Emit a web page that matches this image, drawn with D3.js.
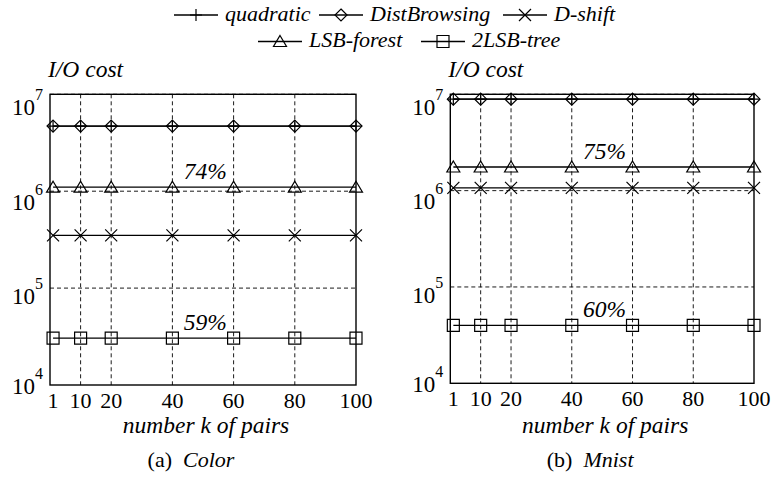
<!DOCTYPE html>
<html>
<head>
<meta charset="utf-8">
<script src="https://cdn.jsdelivr.net/npm/d3@7"></script>
<style>
  html, body { margin: 0; padding: 0; background: #fff; }
  svg { display: block; }
  text { font-family: "Liberation Serif", "Times New Roman", serif; fill: #000; }
</style>
</head>
<body>
<svg id="chart" width="775" height="479"></svg>
<script>
// ---------- data ----------
const kValues = [1, 10, 20, 40, 60, 80, 100];
const xTickLabels = ["1", "10", "20", "40", "60", "80", "100"];
const yTickValues = [1e4, 1e5, 1e6, 1e7];
const yTickExponents = ["4", "5", "6", "7"];
const seriesNames = ["quadratic", "DistBrowsing", "D-shift", "LSB-forest", "2LSB-tree"];

// (a) Color
const colorQuadratic    = [4.7e6, 4.7e6, 4.7e6, 4.7e6, 4.7e6, 4.7e6, 4.7e6];
const colorDistBrowsing = [4.7e6, 4.7e6, 4.7e6, 4.7e6, 4.7e6, 4.7e6, 4.7e6];
const colorDShift       = [3.5e5, 3.5e5, 3.5e5, 3.5e5, 3.5e5, 3.5e5, 3.5e5];
const colorLSBForest    = [1.1e6, 1.1e6, 1.1e6, 1.1e6, 1.1e6, 1.1e6, 1.1e6];
const color2LSBTree     = [3.05e4, 3.05e4, 3.05e4, 3.05e4, 3.05e4, 3.05e4, 3.05e4];
const colorAnnotations  = ["74%", "59%"];

// (b) Mnist
const mnistQuadratic    = [8.9e6, 8.9e6, 8.9e6, 8.9e6, 8.9e6, 8.9e6, 8.9e6];
const mnistDistBrowsing = [8.9e6, 8.9e6, 8.9e6, 8.9e6, 8.9e6, 8.9e6, 8.9e6];
const mnistDShift       = [1.07e6, 1.07e6, 1.07e6, 1.07e6, 1.07e6, 1.07e6, 1.07e6];
const mnistLSBForest    = [1.76e6, 1.76e6, 1.76e6, 1.76e6, 1.76e6, 1.76e6, 1.76e6];
const mnist2LSBTree     = [4.0e4, 4.0e4, 4.0e4, 4.0e4, 4.0e4, 4.0e4, 4.0e4];
const mnistAnnotations  = ["75%", "60%"];

const annotationK = 43.7;

// ---------- drawing ----------
const svg = d3.select("#chart");
svg.append("rect").attr("width", 775).attr("height", 479).attr("fill", "#fff");

const markerTypes = ["plus", "diamond", "cross", "triangle", "square"];

function drawMarker(g, type, cx, cy) {
  const s = 6;
  let d;
  switch (type) {
    case "plus": d = `M${cx - s},${cy}H${cx + s}M${cx},${cy - s}V${cy + s}`; break;
    case "diamond": d = `M${cx},${cy - s}L${cx + s},${cy}L${cx},${cy + s}L${cx - s},${cy}Z`; break;
    case "cross": d = `M${cx - s},${cy - s}L${cx + s},${cy + s}M${cx - s},${cy + s}L${cx + s},${cy - s}`; break;
    case "triangle": d = `M${cx},${cy - 6}L${cx + 6.5},${cy + 5}L${cx - 6.5},${cy + 5}Z`; break;
    case "square": d = `M${cx - s},${cy - s}H${cx + s}V${cy + s}H${cx - s}Z`; break;
  }
  g.append("path").attr("d", d).attr("fill", "none").attr("stroke", "#000").attr("stroke-width", 1.2);
}

const panels = [
  { left: 50, right: 356, top: 94.3, bottom: 385, letter: "(a)", name: "Color",
    series: [colorQuadratic, colorDistBrowsing, colorDShift, colorLSBForest, color2LSBTree],
    annotations: colorAnnotations },
  { left: 450.3, right: 754, top: 94.3, bottom: 383.3, letter: "(b)", name: "Mnist",
    series: [mnistQuadratic, mnistDistBrowsing, mnistDShift, mnistLSBForest, mnist2LSBTree],
    annotations: mnistAnnotations }
];

panels.forEach(p => {
  const x = d3.scaleLinear().domain([0, 100]).range([p.left, p.right]);
  const y = d3.scaleLog().domain([1e4, 1e7]).range([p.bottom, p.top]);
  const g = svg.append("g");

  // dashed grid
  g.selectAll(".vgrid").data(kValues.filter(k => k > 1 && k < 100)).enter()
    .append("line")
    .attr("x1", d => x(d)).attr("x2", d => x(d))
    .attr("y1", p.top).attr("y2", p.bottom)
    .attr("stroke", "#000").attr("stroke-width", 0.9).attr("stroke-dasharray", "4,3");
  g.selectAll(".hgrid").data(yTickValues.filter(v => v > 1e4)).enter()
    .append("line")
    .attr("x1", p.left).attr("x2", p.right)
    .attr("y1", d => y(d)).attr("y2", d => y(d))
    .attr("stroke", "#000").attr("stroke-width", 0.9).attr("stroke-dasharray", "4,3");

  // frame
  g.append("rect")
    .attr("x", p.left).attr("y", p.top)
    .attr("width", p.right - p.left).attr("height", p.bottom - p.top)
    .attr("fill", "none").attr("stroke", "#000").attr("stroke-width", 1.4);

  // x tick labels
  g.selectAll(".xt").data(kValues).enter()
    .append("text")
    .attr("x", d => x(d)).attr("y", p.bottom + 22.5)
    .attr("text-anchor", "middle").attr("font-size", 22)
    .text((d, i) => xTickLabels[i]);

  // y tick labels (10 with superscript exponent)
  yTickValues.forEach((v, i) => {
    const off = i === 0 ? 9 : 14 + 2.3 * i;
    const t = g.append("text")
      .attr("x", p.left - 7).attr("y", y(v) + off)
      .attr("text-anchor", "end").attr("font-size", 23);
    t.append("tspan").text("10");
    t.append("tspan").attr("dy", -15).attr("font-size", 16).text(yTickExponents[i]);
  });

  // axis titles
  g.append("text").attr("x", p.left - 2).attr("y", 77)
    .attr("font-size", 23.5).attr("font-style", "italic").text("I/O cost");
  g.append("text").attr("x", (p.left + p.right) / 2 + 3).attr("y", 433)
    .attr("text-anchor", "middle").attr("font-size", 23.5).attr("font-style", "italic")
    .text("number k of pairs");

  // subcaption
  const cap = g.append("text").attr("x", (p.left + p.right) / 2 - 12).attr("y", 467)
    .attr("text-anchor", "middle").attr("font-size", 22);
  cap.append("tspan").text(p.letter + "\u2002");
  cap.append("tspan").attr("font-style", "italic").text(p.name);

  // series
  const line = d3.line().x((d, i) => x(kValues[i])).y(d => y(d));
  p.series.forEach((vals, si) => {
    g.append("path").attr("d", line(vals))
      .attr("fill", "none").attr("stroke", "#000").attr("stroke-width", 1.3);
    vals.forEach((v, i) => drawMarker(g, markerTypes[si], x(kValues[i]), y(v)));
  });

  // percentage annotations above LSB-forest and 2LSB-tree lines
  [p.series[3], p.series[4]].forEach((vals, ai) => {
    g.append("text").attr("x", x(annotationK)).attr("y", y(vals[0]) - 8)
      .attr("font-size", 23.5).attr("font-style", "italic")
      .text(p.annotations[ai]);
  });
});

// ---------- legend ----------
const legend = svg.append("g");
const legendItems = [
  { idx: 0, cx: 196, cy: 15 },
  { idx: 1, cx: 341, cy: 15 },
  { idx: 2, cx: 525, cy: 15 },
  { idx: 3, cx: 280, cy: 41.5 },
  { idx: 4, cx: 443, cy: 41.5 }
];
legendItems.forEach(it => {
  legend.append("line")
    .attr("x1", it.cx - 22).attr("x2", it.cx + 22)
    .attr("y1", it.cy).attr("y2", it.cy)
    .attr("stroke", "#000").attr("stroke-width", 1.3);
  drawMarker(legend, markerTypes[it.idx], it.cx, it.cy);
  legend.append("text").attr("x", it.cx + 29).attr("y", it.cy + 5.5)
    .attr("font-size", 22).attr("font-style", "italic")
    .text(seriesNames[it.idx]);
});
</script>
</body>
</html>
